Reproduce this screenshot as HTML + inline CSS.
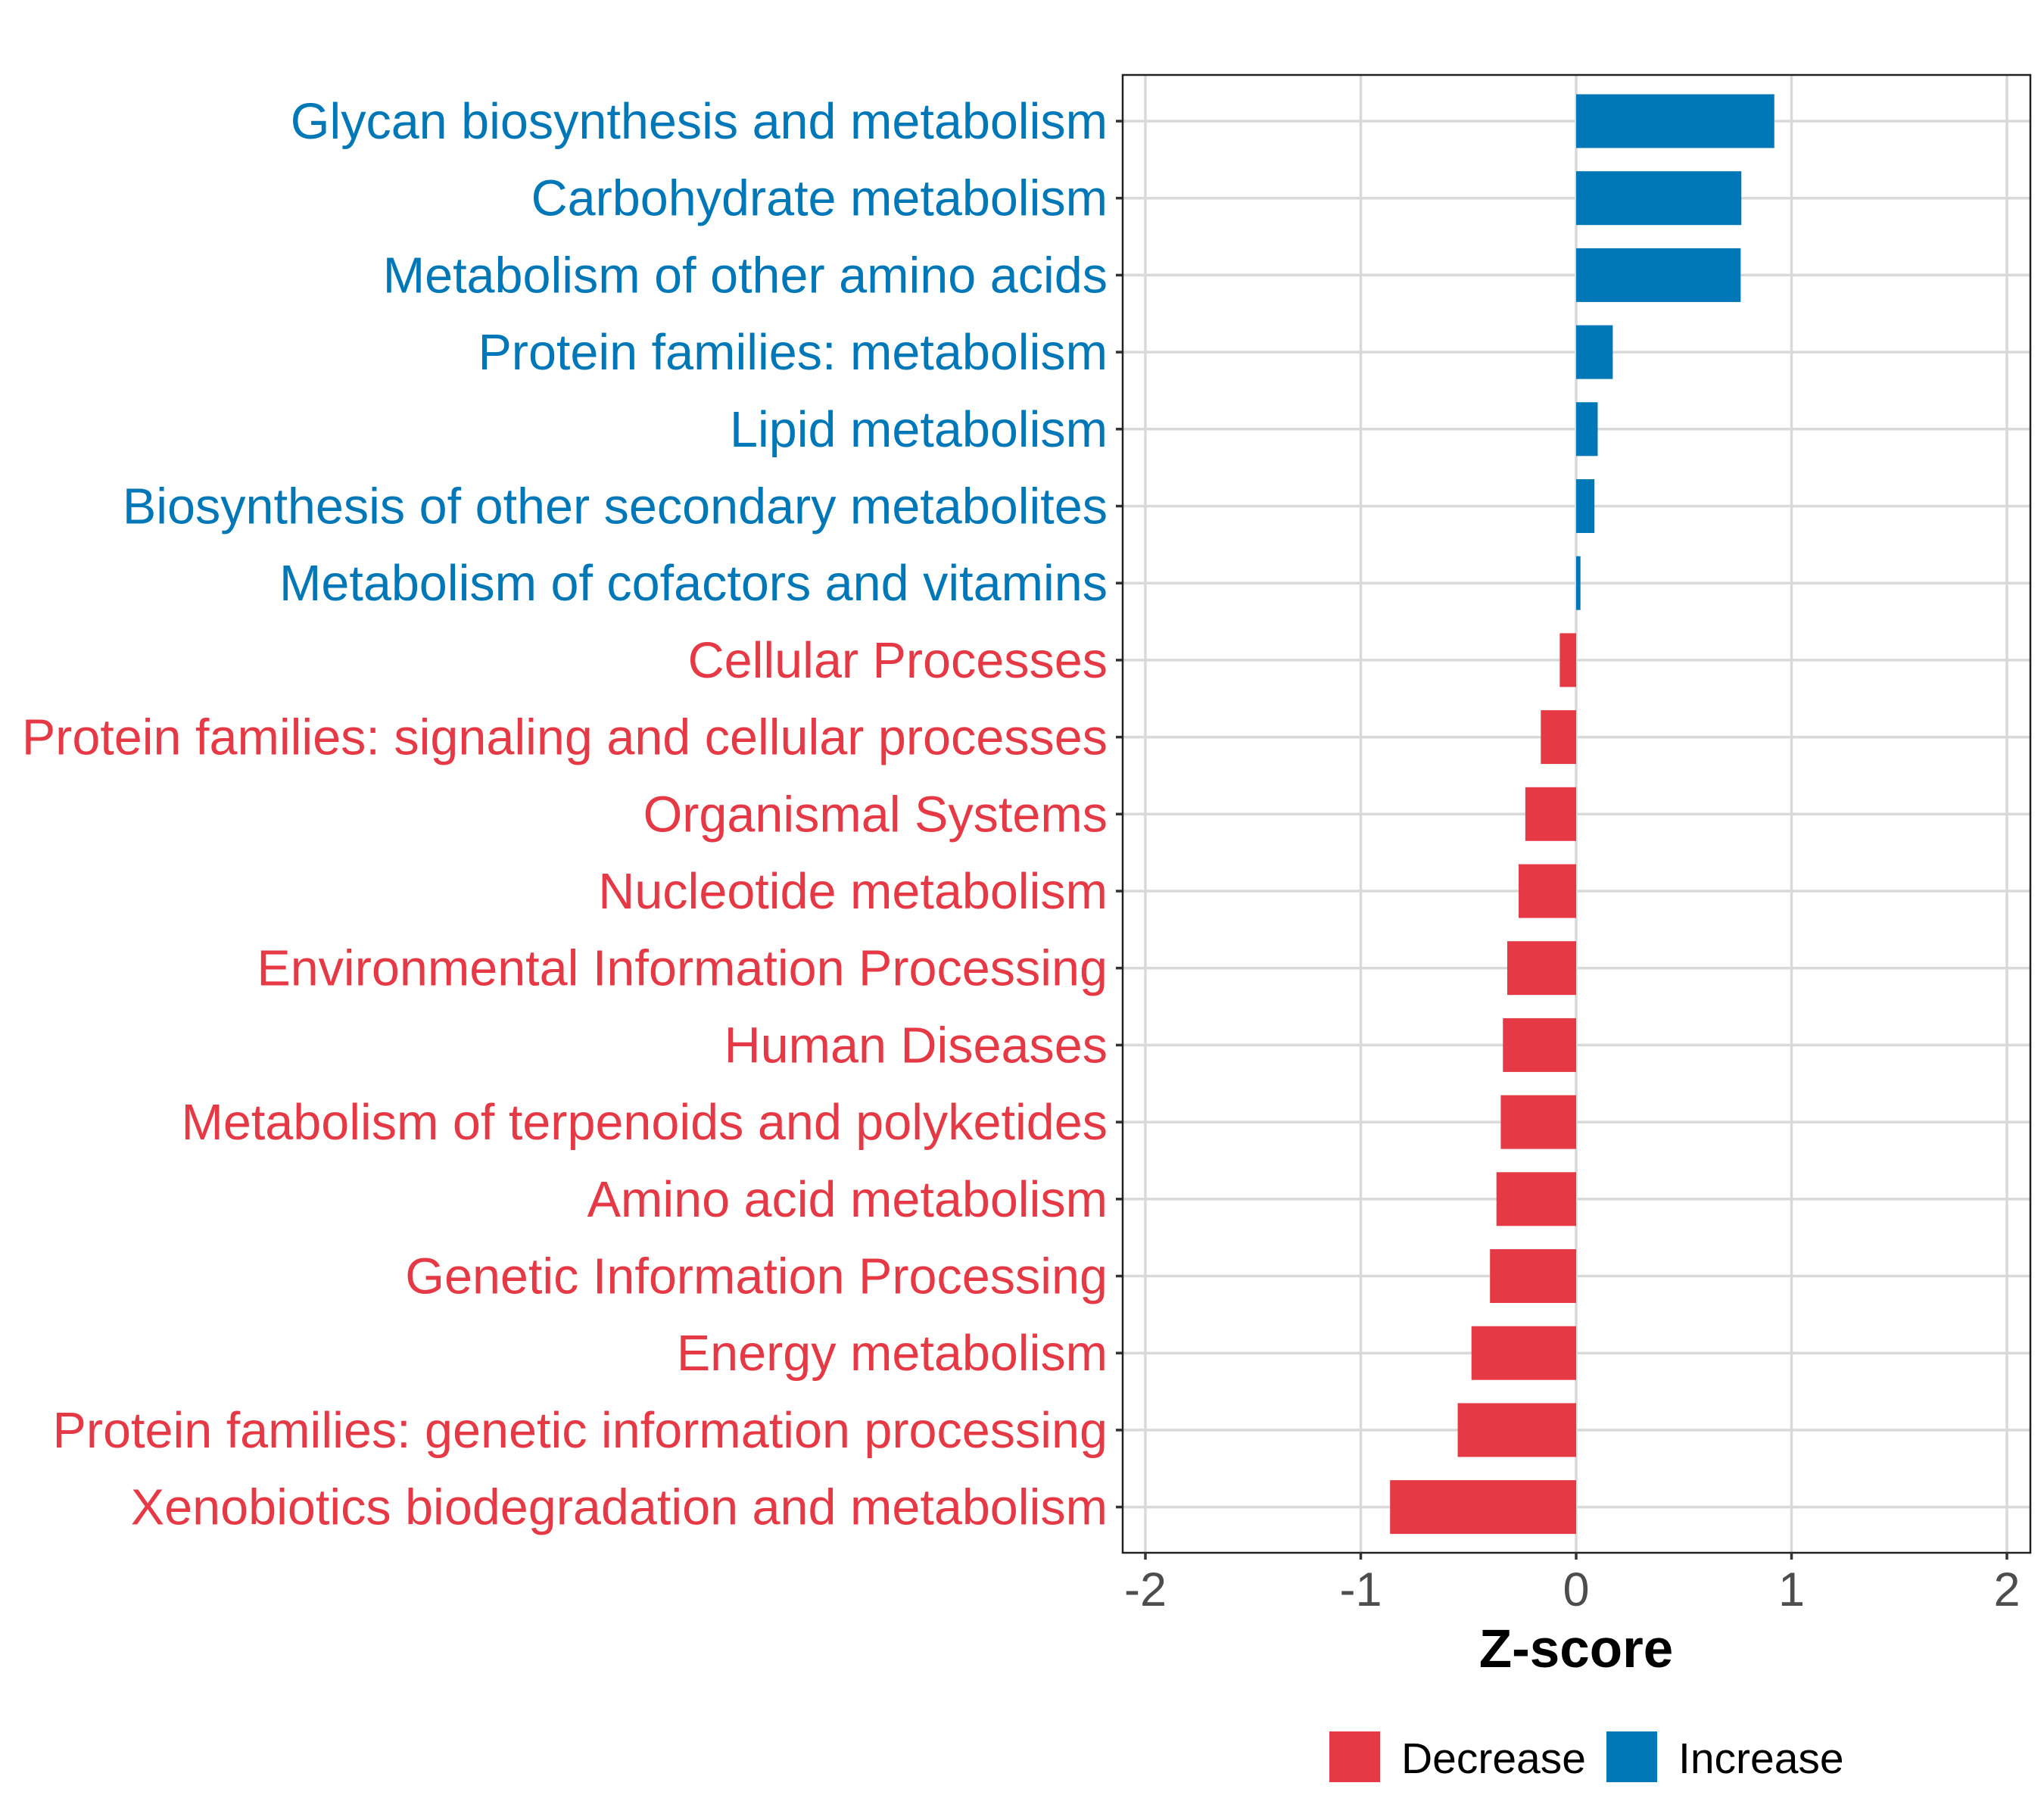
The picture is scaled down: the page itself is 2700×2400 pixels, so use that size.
<!DOCTYPE html>
<html><head><meta charset="utf-8"><style>
html,body{margin:0;padding:0;background:#fff}
svg{display:block;font-family:"Liberation Sans",sans-serif}
</style></head><body>
<svg id="chart" width="2700" height="2400" xmlns="http://www.w3.org/2000/svg"></svg>
<script>
const categories = ["Glycan biosynthesis and metabolism","Carbohydrate metabolism","Metabolism of other amino acids","Protein families: metabolism","Lipid metabolism","Biosynthesis of other secondary metabolites","Metabolism of cofactors and vitamins","Cellular Processes","Protein families: signaling and cellular processes","Organismal Systems","Nucleotide metabolism","Environmental Information Processing","Human Diseases","Metabolism of terpenoids and polyketides","Amino acid metabolism","Genetic Information Processing","Energy metabolism","Protein families: genetic information processing","Xenobiotics biodegradation and metabolism"];
const zscores = [0.92,0.767,0.764,0.17,0.10,0.085,0.02,-0.076,-0.164,-0.236,-0.267,-0.32,-0.34,-0.35,-0.37,-0.40,-0.486,-0.55,-0.864];
const xTicks = [-2,-1,0,1,2];
const tickLabels = ["-2","-1","0","1","2"];
const legendLabels = ["Decrease","Increase"];

const NS="http://www.w3.org/2000/svg";
const svg=document.getElementById('chart');
const L=1483,R=2682,T=99,B=2051;
const x0=2082,unit=284.5;
const xs=v=>x0+v*unit;
const row0=160,step=101.7;
const ys=i=>row0+i*step;
const barH=71;
const BLUE="#0077B6",RED="#E63946";
function mk(t,a){const e=document.createElementNS(NS,t);for(const k in a)e.setAttribute(k,a[k]);svg.appendChild(e);return e;}

let bg=mk('rect',{x:L,y:T,width:R-L,height:B-T,fill:'#fff'});


xTicks.forEach(v=>{
  const g=mk('line',{x1:xs(v),x2:xs(v),y1:T,y2:B,stroke:'#d9d9d9','stroke-width':3.5});
  
  
});
categories.forEach((c,i)=>{
  const g=mk('line',{x1:L,x2:R,y1:ys(i),y2:ys(i),stroke:'#d9d9d9','stroke-width':3.5});
  
  
});
categories.forEach((c,i)=>{
  const v=zscores[i];const col=v>=0?BLUE:RED;
  const b=mk('rect',{x:Math.min(xs(0),xs(v)),y:ys(i)-barH/2,width:Math.abs(xs(v)-xs(0)),height:barH,fill:col});
  
  
  const tk=mk('line',{x1:L-9,x2:L,y1:ys(i),y2:ys(i),stroke:'#333','stroke-width':3.5});
  
  
  const t=mk('text',{x:L-20,y:ys(i)+23,'text-anchor':'end','font-size':66.5,fill:col});
  t.textContent=c;
  
  
});
let bd=mk('rect',{x:L,y:T,width:R-L,height:B-T,fill:'none',stroke:'#222','stroke-width':2.5});


xTicks.forEach((v,i)=>{
  const tk=mk('line',{x1:xs(v),x2:xs(v),y1:B,y2:B+9,stroke:'#333','stroke-width':3.5});
  
  
  const t=mk('text',{x:xs(v),y:2121,'text-anchor':'middle','font-size':63,fill:'#4d4d4d'});
  t.textContent=tickLabels[i];
  
  
});
let at=mk('text',{x:xs(0),y:2202,'text-anchor':'middle','font-size':71,'font-weight':'bold',fill:'#000'});
at.textContent="Z-score";


const legX=[1756,2122],legCol=[RED,BLUE];
legendLabels.forEach((l,i)=>{
  const k=mk('rect',{x:legX[i],y:2287,width:67,height:67,fill:legCol[i]});
  
  
  const t=mk('text',{x:legX[i]+95,y:2342,'font-size':57,fill:'#000'});
  t.textContent=l;
  
  
});
</script>
</body></html>
